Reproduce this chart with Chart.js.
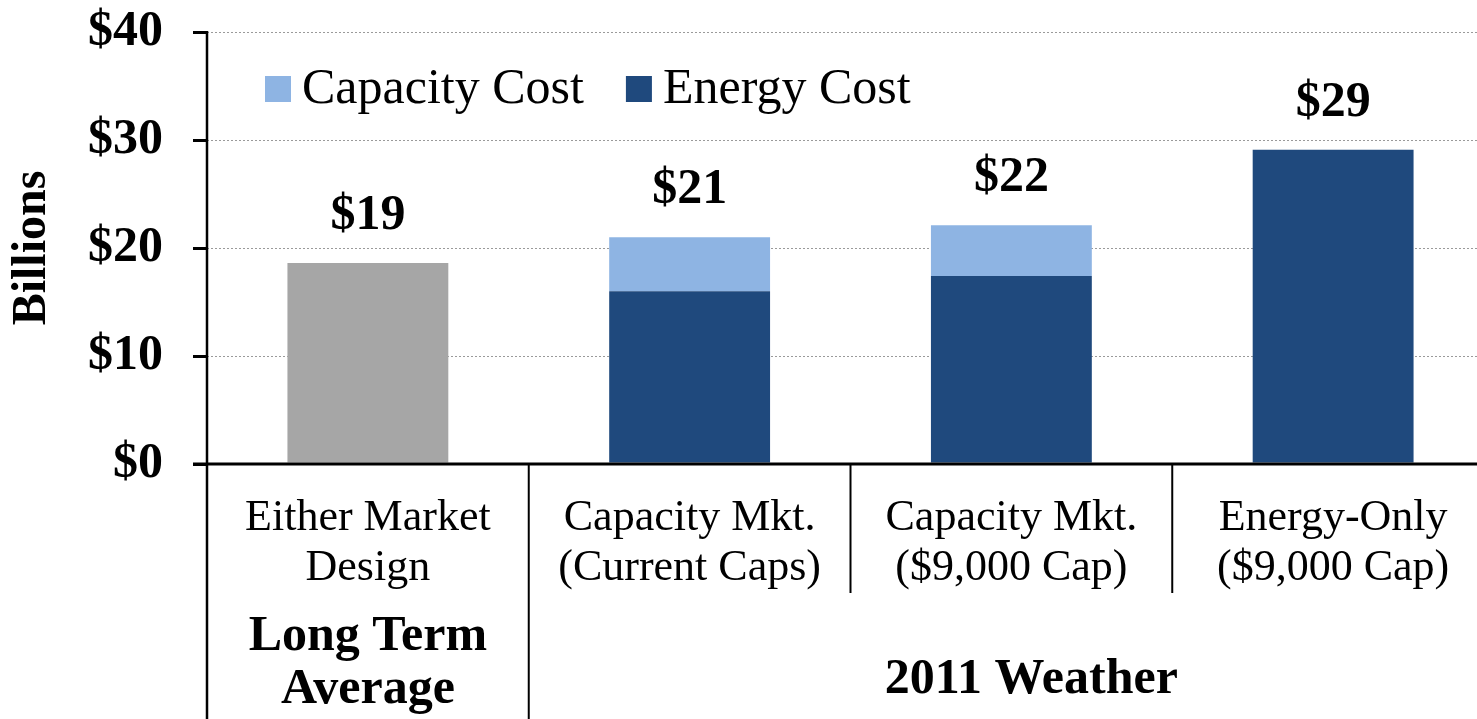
<!DOCTYPE html>
<html>
<head>
<meta charset="utf-8">
<script src="https://cdn.jsdelivr.net/npm/chart.js@4/dist/chart.umd.min.js"></script>
<style>
  html, body { margin: 0; padding: 0; overflow: hidden; background: #fff; }
  #wrap { position: relative; width: 1494px; height: 719px; }
</style>
</head>
<body>
<div id="wrap"><canvas id="costChart"></canvas></div>
<script>
// Chart data (Billions of dollars)
const categories = [
    ['Either Market', 'Design'],
    ['Capacity Mkt.', '(Current Caps)'],
    ['Capacity Mkt.', '($9,000 Cap)'],
    ['Energy-Only', '($9,000 Cap)']
];
const energyCost = [18.6, 16.0, 17.4, 29.1];
const capacityCost = [0, 5.0, 4.7, 0];
const yTicks = [0, 10, 20, 30, 40];
const groupLabels = [
    { text: ['Long Term', 'Average'], from: 0, to: 0 },
    { text: ['2011 Weather'], from: 1, to: 3 }
];

const SERIF = "'Liberation Serif', 'Times New Roman', serif";
const GRAY = '#A6A6A6';
const DARK_BLUE = '#1F497D';
const LIGHT_BLUE = '#8EB4E3';

const totals = energyCost.map((v, i) => v + capacityCost[i]);

// gridlines behind the bars
const gridPlugin = {
    id: 'dottedGrid',
    beforeDatasetsDraw(chart) {
        const { ctx, chartArea, scales } = chart;
        ctx.save();
        ctx.strokeStyle = '#9a9a9a';
        ctx.lineWidth = 1;
        ctx.setLineDash([2, 2]);
        yTicks.forEach(t => {
            if (t === 0) return;
            const y = Math.round(scales.y.getPixelForValue(t)) + 0.5;
            ctx.beginPath();
            ctx.moveTo(chartArea.left, y);
            ctx.lineTo(chart.width, y);
            ctx.stroke();
        });
        ctx.restore();
    }
};

// axes, category dividers, group labels, totals, legend
const decorPlugin = {
    id: 'decor',
    afterDatasetsDraw(chart) {
        const { ctx, chartArea, scales } = chart;
        const x = scales.x, y = scales.y;
        ctx.save();

        // y axis line runs down through the category area
        ctx.strokeStyle = '#000';
        ctx.lineWidth = 2.5;
        ctx.beginPath();
        ctx.moveTo(chartArea.left, chartArea.top - 1);
        ctx.lineTo(chartArea.left, chart.height);
        ctx.stroke();

        // baseline
        ctx.lineWidth = 3;
        ctx.beginPath();
        ctx.moveTo(chartArea.left - 14, chartArea.bottom);
        ctx.lineTo(chart.width, chartArea.bottom);
        ctx.stroke();

        // dividers between categories
        ctx.lineWidth = 2;
        for (let i = 0; i < categories.length - 1; i++) {
            const xm = (x.getPixelForValue(i) + x.getPixelForValue(i + 1)) / 2;
            const isGroupEdge = groupLabels.some(g => g.to === i);
            ctx.beginPath();
            ctx.moveTo(xm, chartArea.bottom);
            ctx.lineTo(xm, isGroupEdge ? chart.height : 593);
            ctx.stroke();
        }

        // group labels
        ctx.fillStyle = '#000';
        ctx.textAlign = 'center';
        ctx.textBaseline = 'middle';
        ctx.font = 'bold 50px ' + SERIF;
        groupLabels.forEach(g => {
            let cx = (x.getPixelForValue(g.from) + x.getPixelForValue(g.to)) / 2;
            if (g.text.length === 1) {
                cx += 20;
                ctx.fillText(g.text[0], cx, 680);
            } else {
                g.text.forEach((line, k) => ctx.fillText(line, cx, 637 + k * 53));
            }
        });

        // totals above the bars
        ctx.textBaseline = 'alphabetic';
        totals.forEach((t, i) => {
            const px = x.getPixelForValue(i);
            const py = y.getPixelForValue(t);
            ctx.fillText('$' + Math.round(t), px, py - 34);
        });

        // legend inside the plot
        ctx.textAlign = 'left';
        ctx.textBaseline = 'middle';
        ctx.font = '50px ' + SERIF;
        let lx = 265;
        const ly = 89;
        [{ label: 'Capacity Cost', color: LIGHT_BLUE }, { label: 'Energy Cost', color: DARK_BLUE }].forEach(item => {
            ctx.fillStyle = item.color;
            ctx.fillRect(lx, ly - 13, 26, 26);
            ctx.fillStyle = '#000';
            ctx.fillText(item.label, lx + 37, ly + 1);
            lx += 37 + ctx.measureText(item.label).width + 42;
        });

        ctx.restore();
    }
};

const ctx = document.getElementById('costChart').getContext('2d');
new Chart(ctx, {
    type: 'bar',
    data: {
        labels: categories,
        datasets: [
            {
                label: 'Energy Cost',
                data: energyCost,
                backgroundColor: [GRAY, DARK_BLUE, DARK_BLUE, DARK_BLUE],
                barPercentage: 0.5,
                categoryPercentage: 1.0
            },
            {
                label: 'Capacity Cost',
                data: capacityCost,
                backgroundColor: LIGHT_BLUE,
                barPercentage: 0.5,
                categoryPercentage: 1.0
            }
        ]
    },
    options: {
        responsive: true,
        maintainAspectRatio: false,
        animation: false,
        layout: { padding: { top: 32, left: 0, right: 0, bottom: 0 } },
        plugins: {
            legend: { display: false },
            tooltip: { enabled: false }
        },
        scales: {
            x: {
                stacked: true,
                offset: true,
                grid: { display: false, drawTicks: false },
                border: { display: false },
                ticks: {
                    padding: 29,
                    maxRotation: 0,
                    autoSkip: false,
                    color: '#000',
                    font: { family: SERIF, size: 44, lineHeight: 1.136 }
                },
                afterFit: s => { s.height = 255; s.paddingLeft = 0; s.paddingRight = 0; }
            },
            y: {
                stacked: true,
                min: 0,
                max: 40,
                grid: {
                    drawOnChartArea: false,
                    drawTicks: true,
                    tickLength: 14,
                    color: '#000',
                    lineWidth: 3
                },
                border: { display: false },
                ticks: {
                    stepSize: 10,
                    padding: 30,
                    color: '#000',
                    font: { family: SERIF, size: 50, weight: 'bold' },
                    callback: v => '$' + v
                },
                title: {
                    display: true,
                    text: 'Billions',
                    color: '#000',
                    font: { family: SERIF, size: 48, weight: 'bold' },
                    padding: { top: 4, bottom: 0 }
                },
                afterFit: s => { s.width = 207; s.paddingTop = 0; s.paddingBottom = 0; }
            }
        }
    },
    plugins: [gridPlugin, decorPlugin]
});
</script>
</body>
</html>
